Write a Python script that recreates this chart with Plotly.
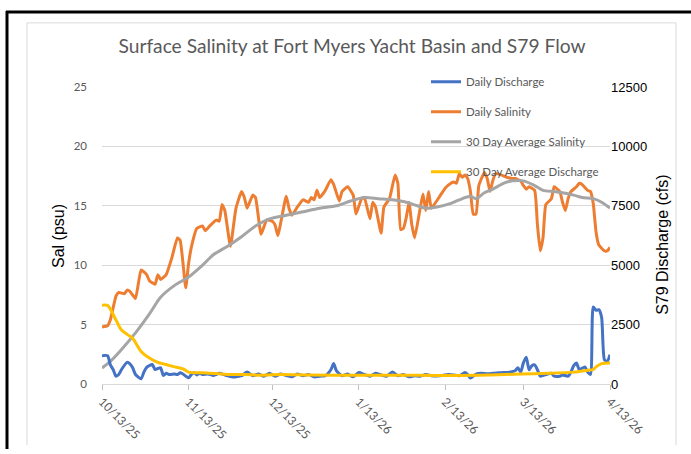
import plotly.graph_objects as go
import pandas as pd

START = "2025-10-13"

# Daily salinity (psu): day offset from 10/13/25, value
sal_days = [0, 2, 3, 5, 6, 8, 9, 10, 12, 14, 16, 17, 19, 20, 21, 23, 25, 27, 28, 30,
            31, 32, 34, 36, 37, 39, 41, 42, 43, 44, 46, 48, 50, 51, 52, 54, 55, 57, 59, 61,
            62, 63, 66, 67, 68, 70, 72, 74, 75, 76, 77, 78, 80, 82, 83, 85, 86, 88, 90, 91,
            93, 94, 96, 97, 98, 100, 101, 103, 105, 106, 107, 108, 109, 110, 111, 112, 114, 115, 116, 117,
            118, 121, 123, 125, 126, 127, 128, 129, 130, 131, 132, 133, 134, 135, 137, 138, 139, 140, 141, 143,
            145, 147, 148, 150, 151, 152, 153, 155, 156, 157, 158, 159, 161, 162, 164, 165, 166, 167, 168, 170,
            171, 172, 174, 175, 176, 177, 178, 180, 181, 182]
sal_vals = [4.8, 4.9, 5.4, 7.4, 7.7, 7.6, 7.9, 7.8, 7.2, 9.6, 9.2, 8.7, 8.4, 9.2, 8.8, 9.2, 10.6, 12.3, 12.1, 8.1,
            10.1, 11.5, 13.1, 13.3, 12.9, 13.4, 13.8, 13.7, 15.1, 14.6, 11.6, 14.8, 16.2, 15.7, 14.8, 15.9, 15.7, 12.6, 13.8, 13.7,
            13.4, 12.5, 15.8, 14.8, 14.2, 14.9, 15.5, 15.3, 15.7, 15.5, 16.3, 15.7, 16.3, 17.2, 16.8, 15.4, 16.2, 16.6, 15.9, 14.3,
            15.6, 15.7, 13.9, 15.3, 14.9, 12.7, 14.9, 15.6, 17.6, 16.9, 13.0, 13.1, 14.0, 15.3, 13.4, 12.3, 14.8, 16.0, 14.6, 16.2,
            14.8, 15.8, 16.5, 16.9, 17.0, 16.9, 17.7, 17.4, 17.6, 17.3, 16.2, 14.3, 14.3, 16.7, 17.8, 17.3, 16.2, 17.1, 17.7, 17.6,
            17.4, 17.3, 17.3, 17.1, 16.7, 16.4, 16.6, 16.3, 13.4, 11.2, 12.3, 15.1, 15.6, 16.6, 16.2, 15.3, 14.6, 15.6, 16.2, 16.6,
            16.9, 16.8, 16.3, 16.2, 15.2, 12.8, 11.7, 11.2, 11.2, 11.5]

# 30 day average salinity (psu)
avg_sal_days = [0, 3, 7, 12, 17, 21, 26, 31, 36, 40, 45, 50, 55, 60, 66, 72, 78, 84, 89, 94,
                99, 104, 109, 113, 116, 120, 125, 128, 132, 134, 137, 140, 144, 147, 151, 155, 158, 162, 165, 169,
                172, 176, 179, 182]
avg_sal_vals = [1.35, 1.9, 2.9, 4.3, 5.9, 7.3, 8.3, 9.0, 10.0, 10.9, 11.6, 12.4, 13.3, 13.9, 14.2, 14.5, 14.8, 15.0, 15.4, 15.7,
                15.6, 15.5, 15.3, 15.0, 14.8, 14.9, 15.2, 15.5, 15.8, 15.6, 16.1, 16.4, 16.9, 17.1, 17.1, 16.7, 16.3, 16.2, 16.1, 15.9,
                15.7, 15.6, 15.3, 14.8]

# Daily S79 discharge (cfs)
dis_days = [0, 2, 3, 4, 5, 6, 7, 9, 10, 11, 12, 14, 15, 16, 18, 19, 20, 21, 22, 23,
            24, 26, 27, 28, 29, 31, 32, 33, 34, 35, 36, 38, 40, 42, 44, 46, 48, 50, 52, 54,
            56, 58, 60, 62, 64, 66, 68, 70, 72, 74, 76, 78, 80, 82, 83, 84, 86, 88, 90, 92,
            94, 96, 98, 100, 102, 104, 106, 108, 110, 112, 114, 116, 118, 120, 122, 124, 126, 128, 130, 131,
            132, 134, 136, 138, 140, 142, 144, 146, 148, 149, 150, 151, 152, 153, 154, 155, 156, 157, 159, 161,
            162, 164, 165, 167, 168, 169, 170, 171, 173, 174, 175, 176, 177, 178, 179, 180, 181, 182]
dis_vals = [1190, 1190, 800, 610, 330, 400, 610, 910, 850, 680, 400, 220, 500, 700, 820, 610, 650, 680, 360, 450,
            400, 420, 400, 470, 420, 260, 400, 470, 380, 450, 400, 420, 360, 450, 380, 320, 300, 350, 500, 350,
            420, 330, 450, 330, 420, 360, 300, 420, 350, 400, 300, 330, 350, 600, 860, 550, 350, 420, 300, 480,
            400, 330, 450, 380, 330, 500, 350, 400, 300, 350, 330, 400, 350, 340, 360, 400, 380, 350, 480, 400,
            250, 420, 450, 430, 450, 470, 480, 500, 560, 680, 500, 900, 1130, 600, 770, 800, 600, 330, 400, 450,
            330, 330, 380, 330, 500, 770, 880, 610, 720, 500, 400, 3240, 3100, 3130, 2800, 1020, 950, 1230]

# 30 day average discharge (cfs)
avg_dis_days = [0, 2, 5, 7, 9, 11, 14, 17, 20, 23, 26, 29, 31, 36, 41, 45, 51, 57, 64, 75,
                90, 105, 120, 135, 150, 160, 169, 174, 176, 177, 179, 182]
avg_dis_vals = [3310, 3310, 2690, 2270, 2090, 1920, 1370, 1090, 910, 820, 720, 640, 500, 470, 440, 400, 400, 370, 400, 380,
                370, 370, 360, 370, 420, 450, 500, 580, 610, 720, 860, 885]

tick_dates = ["2025-10-13", "2025-11-13", "2025-12-13", "2026-01-13", "2026-02-13", "2026-03-13", "2026-04-13"]
tick_labels = ["10/13/25", "11/13/25", "12/13/25", "1/13/26", "2/13/26", "3/13/26", "4/13/26"]


def to_dates(days):
    return pd.Timestamp(START) + pd.to_timedelta(days, unit="D")


BLUE = "#4472C4"
ORANGE = "#ED7D31"
GRAY = "#A5A5A5"
YELLOW = "#FFC000"

fig = go.Figure()
fig.add_trace(go.Scatter(x=to_dates(dis_days), y=dis_vals, name="Daily Discharge", yaxis="y2",
                         mode="lines", line=dict(color=BLUE, width=3, shape="spline", smoothing=0.6),
                         legendgroup="a"))
fig.add_trace(go.Scatter(x=to_dates(sal_days), y=sal_vals, name="Daily Salinity",
                         mode="lines", line=dict(color=ORANGE, width=3, shape="spline", smoothing=0.4),
                         legendgroup="b"))
fig.add_trace(go.Scatter(x=to_dates(avg_sal_days), y=avg_sal_vals, name="30 Day Average Salinity",
                         mode="lines", line=dict(color=GRAY, width=3, shape="spline", smoothing=0.8),
                         legendgroup="c"))
fig.add_trace(go.Scatter(x=to_dates(avg_dis_days), y=avg_dis_vals, name="30 Day Average Discharge", yaxis="y2",
                         mode="lines", line=dict(color=YELLOW, width=3, shape="spline", smoothing=0.8),
                         legendgroup="d"))

W, H = 691, 454
L, R, T, B = 102, 610, 87, 388


def px(xp):
    return (xp - L) / (R - L)


def py(yp):
    return (B - yp) / (B - T)


fig.update_layout(
    width=W, height=H,
    margin=dict(l=L, r=W - R, t=T, b=H - B),
    paper_bgcolor="white", plot_bgcolor="white",
    title=dict(text="Surface Salinity at Fort Myers Yacht Basin and S79 Flow",
               x=352 / W, xanchor="center", y=1 - 46 / H, yanchor="middle",
               font=dict(family="Lato", size=19.2, color="#595959")),
    xaxis=dict(type="date", range=[tick_dates[0], tick_dates[-1]],
               tickvals=tick_dates, ticktext=tick_labels, tickangle=45,
               ticks="outside", ticklen=5, tickcolor="#BFBFBF",
               showline=True, linecolor="#D9D9D9", linewidth=1,
               showgrid=False, zeroline=False,
               tickfont=dict(family="Lato", size=12, color="#595959")),
    yaxis=dict(range=[0, 25], dtick=5, tick0=0, showgrid=True, gridcolor="#D9D9D9",
               gridwidth=1, zeroline=False, showline=False, ticks="",
               ticklabelstandoff=14,
               tickfont=dict(family="Lato", size=11.5, color="#595959")),
    yaxis2=dict(range=[0, 12500], dtick=2500, tick0=0, overlaying="y", side="right",
                tickformat="d",
                showgrid=False, zeroline=False, showline=False, ticks="",
                tickfont=dict(family="Liberation Sans", size=13, color="#000000")),
    legend=dict(x=px(426), y=py(67), xanchor="left", yanchor="top",
                bgcolor="rgba(0,0,0,0)", traceorder="grouped", tracegroupgap=11,
                itemwidth=30,
                font=dict(family="Lato", size=11.5, color="#595959")),
    showlegend=True,
    annotations=[
        dict(text="Sal (psu)", xref="paper", yref="paper", x=px(59), y=py(238),
             textangle=-90, showarrow=False, xanchor="center", yanchor="middle",
             font=dict(family="Liberation Sans", size=16, color="#000000")),
        dict(text="S79 Discharge (cfs)", xref="paper", yref="paper", x=px(663), y=py(247),
             textangle=-90, showarrow=False, xanchor="center", yanchor="middle",
             font=dict(family="Liberation Sans", size=16, color="#000000")),
    ],
    shapes=[
        # inner light frame
        dict(type="line", xref="paper", yref="paper", x0=px(27), x1=px(676), y0=py(22), y1=py(22),
             line=dict(color="#D9D9D9", width=1)),
        dict(type="line", xref="paper", yref="paper", x0=px(27), x1=px(27), y0=py(22), y1=py(450),
             line=dict(color="#D9D9D9", width=1)),
        dict(type="line", xref="paper", yref="paper", x0=px(676), x1=px(676), y0=py(22), y1=py(450),
             line=dict(color="#D9D9D9", width=1)),
        # outer black frame
        dict(type="line", xref="paper", yref="paper", x0=px(6), x1=px(W), y0=py(11), y1=py(11),
             line=dict(color="#000000", width=3)),
        dict(type="line", xref="paper", yref="paper", x0=px(7), x1=px(7), y0=py(10), y1=py(H),
             line=dict(color="#000000", width=3)),
    ],
)

fig.write_html("out.html", config={"displayModeBar": False},
               post_script="document.body.style.margin='0px';document.body.style.overflow='hidden';")
